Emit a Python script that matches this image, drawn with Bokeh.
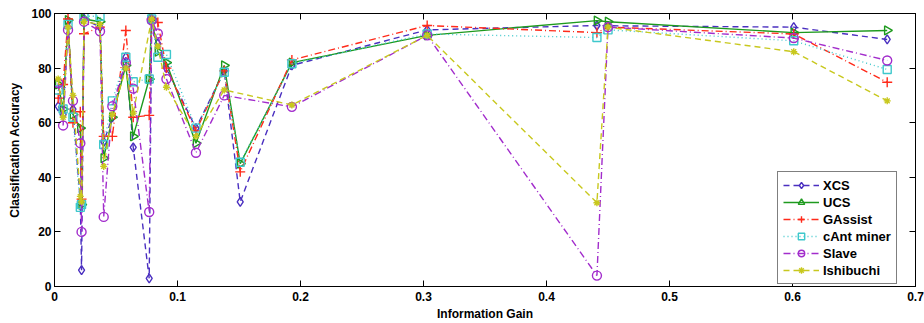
from bokeh.plotting import figure
from bokeh.models import (ColumnDataSource, LinearAxis, FixedTicker, Legend, LegendItem, Range1d)
from bokeh.embed import file_html
from bokeh.resources import INLINE

info_gain = [0.003, 0.007, 0.011, 0.015, 0.021, 0.022, 0.024, 0.037, 0.040, 0.047,
             0.058, 0.064, 0.077, 0.079, 0.084, 0.091, 0.115, 0.138, 0.151, 0.193,
             0.303, 0.441, 0.450, 0.601, 0.677]

xcs = [66, 63, 97, 65, 31, 6, 98, 95, 53, 62, 84, 51, 3, 98, 89, 80, 58, 79, 31, 81,
       94, 95.6, 95.5, 95, 90.5]
ucs = [74, 65, 97.6, 63, 58, 30, 98, 97, 47, 62, 81, 55, 76, 98, 86, 82, 52.5, 81, 45, 82,
       92, 97.4, 97, 93, 93.8]
gassist = [69, 74, 98, 60, 64, 32, 92.6, 95, 55, 55, 93.8, 62, 62.7, 98, 96.7, 80, 57, 79, 42, 83,
           95.6, 93, 95, 92.5, 74.8]
cant = [72, 65, 96, 62, 29, 30, 99, 99, 52, 68, 84, 75, 76, 98, 84, 85, 58, 78.5, 45.5, 81.6,
        92.5, 91.2, 94, 90, 79.5]
slave = [74.5, 59, 94, 68, 52.5, 20, 97, 93.5, 25.5, 66, 82, 72.5, 27.3, 97.5, 92.7, 76, 49, 70, None, 65.8,
         92, 4, 95, 91, 82.8]
ishibuchi = [76, 62, 95, 70, 33, 31, 97, 96, 44, 63, 80, 63.5, None, 98, 88, 73, 55, 72, None, 66.5,
             92, 30.7, 95, 86, 68]

series_names = ["XCS", "UCS", "GAssist", "cAnt miner", "Slave", "Ishibuchi"]
series_values = [xcs, ucs, gassist, cant, slave, ishibuchi]
x_ticks = [0, 0.1, 0.2, 0.3, 0.4, 0.5, 0.6, 0.7]
x_tick_labels = ["0", "0.1", "0.2", "0.3", "0.4", "0.5", "0.6", "0.7"]
y_ticks = [0, 20, 40, 60, 80, 100]
y_tick_labels = ["0", "20", "40", "60", "80", "100"]

styles = [
    dict(color="#4a2fc0", dash="6 4", marker="diamond", size=9),
    dict(color="#1e9a1e", dash="solid", marker="triangle", size=9, angle=-1.5708),
    dict(color="#ff2a1a", dash="7 3 1 3", marker="cross", size=10),
    dict(color="#3ec8cc", dash="1 3", marker="square", size=8),
    dict(color="#a22ccc", dash="7 3 1 3", marker="circle", size=9),
    dict(color="#c8c81e", dash="6 4", marker="asterisk", size=7),
]

FONT = "Liberation Sans"
W, H = 924, 323

p = figure(width=W, height=H, output_backend="svg", toolbar_location=None,
           x_range=Range1d(0, 0.7), y_range=Range1d(0, 100),
           min_border_left=54, min_border_right=W - 915, min_border_top=13,
           min_border_bottom=H - 287)
p.grid.visible = False
p.outline_line_color = "black"
p.outline_line_width = 1
p.background_fill_color = "white"

def style_axis(ax, ticks, labels, show_labels=True):
    ax.ticker = FixedTicker(ticks=ticks)
    ax.major_label_overrides = {t: (l if show_labels else "") for t, l in zip(ticks, labels)}
    ax.major_tick_in = 6
    ax.major_tick_out = 0
    ax.minor_tick_in = 0
    ax.minor_tick_out = 0
    ax.major_tick_line_color = "black"
    ax.axis_line_color = "black"
    ax.major_label_text_font = FONT
    ax.major_label_text_font_style = "bold"
    ax.major_label_text_font_size = "12px"
    ax.major_label_text_color = "black"
    ax.major_label_standoff = 3
    ax.axis_label_text_font = FONT
    ax.axis_label_text_font_style = "bold"
    ax.axis_label_text_font_size = "12px"
    ax.axis_label_text_color = "black"

style_axis(p.xaxis[0], x_ticks, x_tick_labels)
style_axis(p.yaxis[0], y_ticks, y_tick_labels)
p.xaxis[0].axis_label = "Information Gain"
p.yaxis[0].axis_label = "Classification Accuracy"
p.xaxis[0].major_label_standoff = 5
p.xaxis[0].axis_label_standoff = 3
p.yaxis[0].axis_label_standoff = 6

top = LinearAxis()
style_axis(top, x_ticks, x_tick_labels, show_labels=False)
top.major_label_text_font_size = "0px"
top.major_label_standoff = 0
right = LinearAxis()
style_axis(right, y_ticks, y_tick_labels, show_labels=False)
right.major_label_text_font_size = "0px"
right.major_label_standoff = 0
p.add_layout(top, "above")
p.add_layout(right, "right")

items = []
for name, vals, st in zip(series_names, series_values, styles):
    xs = [x for x, v in zip(info_gain, vals) if v is not None]
    ys = [v for v in vals if v is not None]
    src = ColumnDataSource(dict(x=xs, y=ys))
    ln = p.line("x", "y", source=src, line_color=st["color"], line_width=1.4,
                line_dash=st["dash"])
    sc = p.scatter("x", "y", source=src, marker=st["marker"], size=st["size"],
                   line_color=st["color"], fill_color=None, line_width=1.4,
                   angle=st.get("angle", 0))
    items.append(LegendItem(label=name, renderers=[ln, sc]))

legend = Legend(items=items, location=(723, 2))
legend.label_text_font = FONT
legend.label_text_font_style = "bold"
legend.label_text_font_size = "13px"
legend.label_text_color = "black"
legend.border_line_color = "black"
legend.border_line_width = 1
legend.background_fill_alpha = 1
legend.glyph_width = 36
legend.glyph_height = 16
legend.label_height = 16
legend.spacing = 1
legend.padding = 5
legend.margin = 0
legend.label_standoff = 4
p.add_layout(legend, "center")

open("out.html", "w").write(file_html(p, INLINE))
